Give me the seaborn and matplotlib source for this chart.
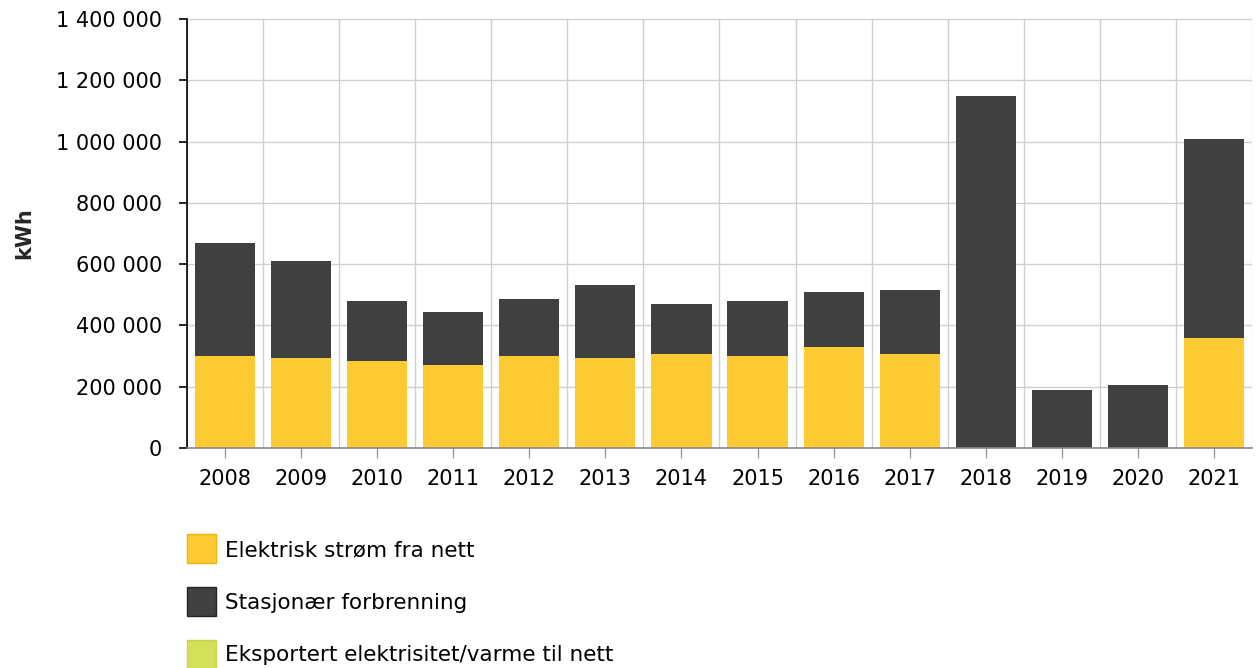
import numpy as np
import pandas as pd
import seaborn as sns
import matplotlib.pyplot as plt
from matplotlib.patches import Patch
from matplotlib.ticker import FuncFormatter, MultipleLocator

# data (kWh)
years = ['2008', '2009', '2010', '2011', '2012', '2013', '2014',
         '2015', '2016', '2017', '2018', '2019', '2020', '2021']
el_nett = [300000, 294000, 284000, 271000, 300000, 294000, 307000,
           300000, 330000, 307000, 0, 0, 0, 359000]
stasjonaer = [369000, 316000, 196000, 173000, 186000, 238000, 163000,
              180000, 179000, 209000, 1149000, 189000, 206000, 649000]
eksport = [0] * 14

labels = ['Elektrisk strøm fra nett', 'Stasjonær forbrenning',
          'Eksportert elektrisitet/varme til nett']
colors = ['#fdca33', '#404040', '#d4df5a']

df = pd.DataFrame({'year': years, 'el': el_nett, 'stasj': stasjonaer})
df['total'] = df['el'] + df['stasj']

sns.set_theme(style='white')
plt.rcParams['font.family'] = ['DejaVu Sans']
plt.rcParams['text.color'] = 'black'
plt.rcParams['xtick.color'] = 'black'
plt.rcParams['ytick.color'] = 'black'

fig = plt.figure(figsize=(12.56, 6.68), dpi=100)
ax = fig.add_axes([0.1489, 0.3293, 0.8479, 0.6423])

sns.barplot(data=df, x='year', y='total', color=colors[1], saturation=1,
            width=0.79, linewidth=0, ax=ax)
sns.barplot(data=df, x='year', y='el', color=colors[0], saturation=1,
            width=0.79, linewidth=0, ax=ax)

ax.set_xlim(-0.5, 13.48)
ax.set_ylim(0, 1400000)
ax.yaxis.set_major_locator(MultipleLocator(200000))
ax.yaxis.set_major_formatter(FuncFormatter(lambda v, p: f'{int(v):,}'.replace(',', ' ')))
ax.set_xticks(np.arange(-0.5, 14, 1), minor=True)
ax.grid(True, which='major', axis='y', color='#d0d0d0', lw=1)
ax.grid(True, which='minor', axis='x', color='#d0d0d0', lw=1)
ax.set_axisbelow(True)

for s in ['top', 'right']:
    ax.spines[s].set_visible(False)
ax.spines['left'].set_color('black')
ax.spines['left'].set_linewidth(1.2)
ax.spines['bottom'].set_color('#888888')
ax.spines['bottom'].set_linewidth(1.2)

ax.tick_params(axis='y', which='major', left=True, length=6, width=1.2,
               color='black', labelsize=15, pad=12)
ax.tick_params(axis='x', which='major', bottom=True, length=7, width=1,
               color='#999999', labelsize=15, pad=8)
ax.tick_params(axis='x', which='minor', bottom=False)
ax.set_xlabel('')
ax.set_ylabel('kWh', fontsize=15, fontweight='bold')
ax.yaxis.set_label_coords(-0.143, 0.5)

handles = [Patch(facecolor=c, edgecolor=e, lw=1)
           for c, e in zip(colors, ['#f0b400', '#222222', '#c8d24a'])]
fig.legend(handles, labels, loc='upper left', bbox_to_anchor=(0.1489, 0.200),
           frameon=False, fontsize=15.5, handlelength=1.35, handleheight=1.7,
           labelspacing=1.1, handletextpad=0.4, borderaxespad=0, borderpad=0)

fig.savefig('out.png', dpi=100)
